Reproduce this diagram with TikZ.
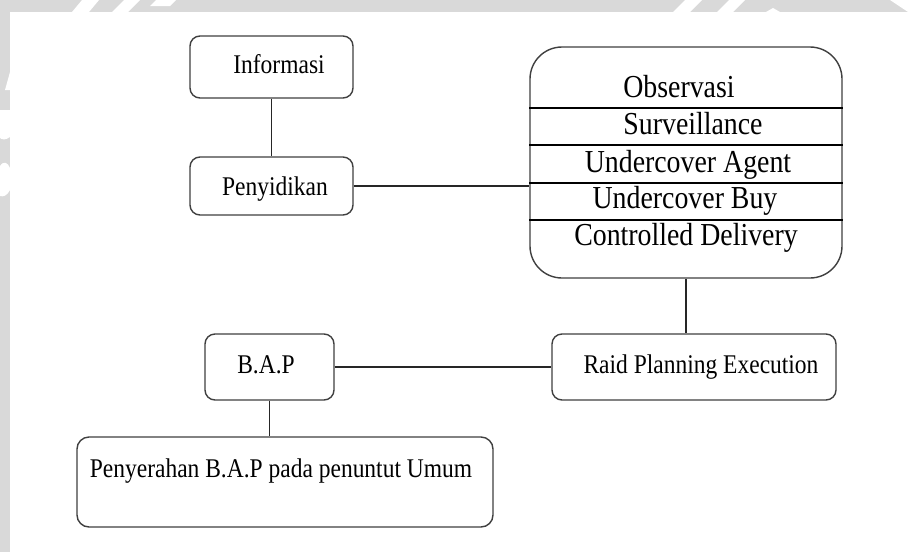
\documentclass[tikz,border=0pt]{standalone}
\usepackage{fontspec}
\setmainfont{Liberation Serif}
\newfontfamily\narrowserif[FakeStretch=0.87]{Liberation Serif}
\definecolor{bandgrey}{HTML}{D9D9D9}
\tikzset{
  box/.style={draw=black!75, line width=1.4pt, rounded corners=10pt, fill=white, inner sep=0pt},
  lbl/.style={inner sep=0pt, anchor=base, font=\narrowserif\fontsize{27}{31}\selectfont},
  rowlbl/.style={inner sep=0pt, anchor=base, font=\narrowserif\fontsize{32}{36}\selectfont},
  link/.style={draw=black!85, line width=1.2pt},
  divider/.style={draw=black, line width=1.4pt}
}
\begin{document}
\begin{tikzpicture}[x=1pt, y=-1pt]
  % canvas
  \useasboundingbox (0,0) rectangle (912,552);
  \fill[white] (0,0) rectangle (912,552);

  % grey border band with light stripes
  \fill[bandgrey] (0,0) rectangle (912,12);
  \fill[bandgrey] (0,0) rectangle (10,552);
  \fill[white] (72,12) -- (89,12) -- (99,0) -- (82,0) -- cycle;
  \fill[white] (112,12) -- (128,12) -- (140,0) -- (124,0) -- cycle;
  \fill[white] (150,6) -- (170,6) -- (176,0) -- (156,0) -- cycle;
  \fill[white] (673,12) -- (690,12) -- (702,0) -- (685,0) -- cycle;
  \fill[white] (717,12) -- (733,12) -- (745,0) -- (729,0) -- cycle;
  \fill[white] (766,12) -- (780,12) -- (773,8) -- cycle;
  \fill[white] (890,0) -- (912,0) -- (912,12) -- (908,12) -- cycle;
  \fill[white] (10,72) -- (10,90) -- (5,90) -- cycle;
  \fill[white] (0,110) -- (10,110) -- (10,137) .. controls (6,140) and (2,140) .. (0,138) -- cycle;
  \fill[white] (0,166) .. controls (4,160) and (8,163) .. (10,168) -- (10,190) .. controls (7,196) and (3,197) .. (0,196) -- cycle;

  % left column
  \node[box, minimum width=163pt, minimum height=62pt] (inf) at (271.5,67) {};
  \node[lbl] (inftxt) at (279,73) {Informasi};
  \node[box, minimum width=163pt, minimum height=58pt] (pen) at (271.5,186) {};
  \node[lbl] (pentxt) at (275,195) {Penyidikan};

  % technique list
  \node[box, rounded corners=32pt, minimum width=312pt, minimum height=231pt] (obs) at (686,162.5) {};
  \draw[divider] (obs.west |- 0,108) -- (obs.east |- 0,108);
  \draw[divider] (obs.west |- 0,145) -- (obs.east |- 0,145);
  \draw[divider] (obs.west |- 0,183) -- (obs.east |- 0,183);
  \draw[divider] (obs.west |- 0,220) -- (obs.east |- 0,220);
  \node[rowlbl] (r1) at (679,97) {Observasi};
  \node[rowlbl] (r2) at (693,134) {Surveillance};
  \node[rowlbl] (r3) at (688,172) {Undercover Agent};
  \node[rowlbl] (r4) at (685,208) {Undercover Buy};
  \node[rowlbl] (r5) at (686,245) {Controlled Delivery};

  % lower row
  \node[box, minimum width=284pt, minimum height=66pt] (raid) at (694,367) {};
  \node[lbl] (raidtxt) at (701,373) {Raid Planning Execution};
  \node[box, minimum width=129pt, minimum height=66pt] (bap) at (269.5,367) {};
  \node[lbl] (baptxt) at (266,373) {B.A.P};
  \node[box, rounded corners=12pt, minimum width=416pt, minimum height=90pt] (ser) at (285,482) {};
  \node[lbl] (sertxt) at (281,477) {Penyerahan B.A.P pada penuntut Umum};

  % connectors
  \draw[link] (inf.south) -- (pen.north);
  \draw[link] (pen.east) -- (pen.east -| obs.west);
  \draw[link] (obs.south) -- (obs.south |- raid.north);
  \draw[link] (bap.east) -- (raid.west);
  \draw[link] (bap.south) -- (ser.north -| bap.south);
\end{tikzpicture}
\end{document}
